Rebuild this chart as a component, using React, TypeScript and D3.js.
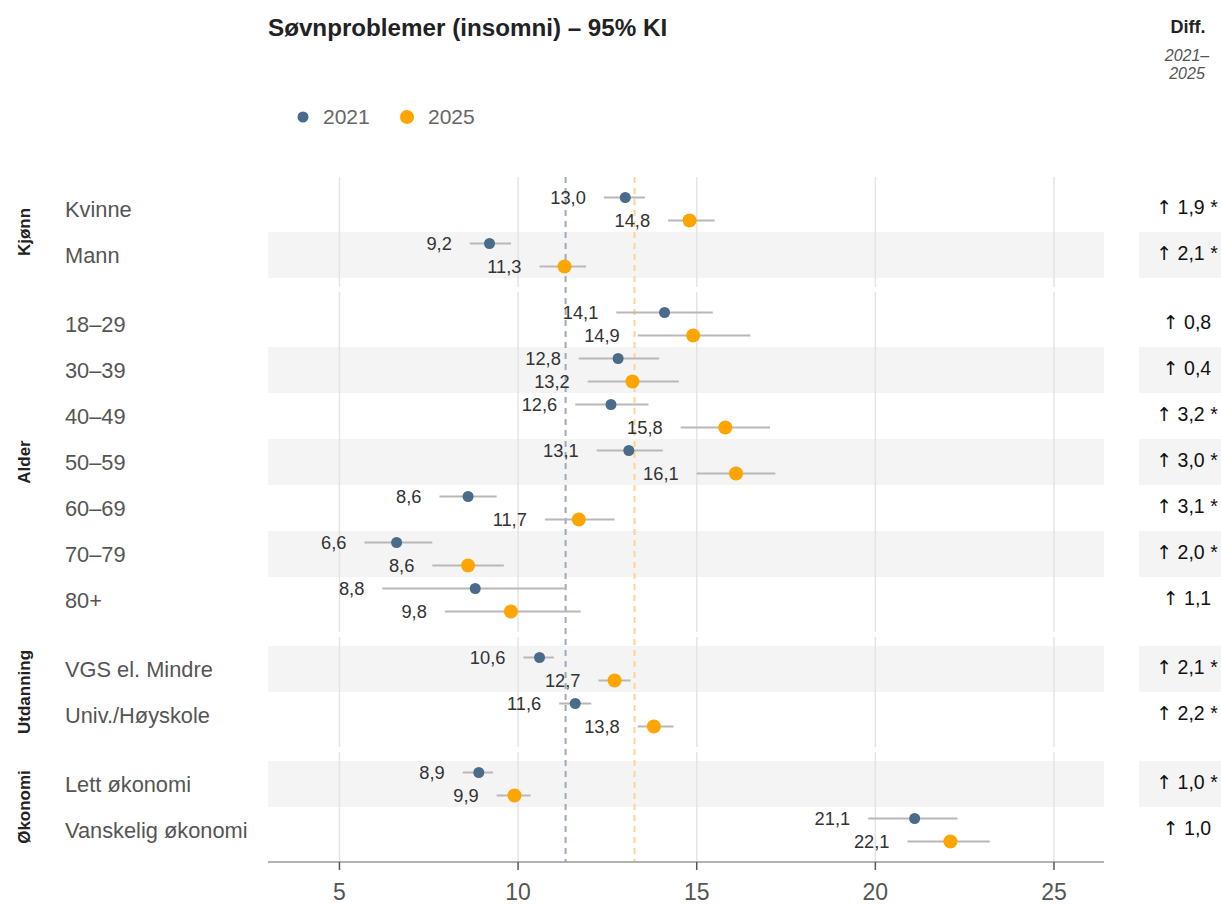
import React from "react";
import * as d3 from "d3";

const categories = ["Kvinne", "Mann", "18–29", "30–39", "40–49", "50–59", "60–69", "70–79", "80+", "VGS el. Mindre", "Univ./Høyskole", "Lett økonomi", "Vanskelig økonomi"];
const groupNames = ["Kjønn", "Alder", "Utdanning", "Økonomi"];
const groupSizes = [2, 7, 2, 2];

const est2021 = [13.0, 9.2, 14.1, 12.8, 12.6, 13.1, 8.6, 6.6, 8.8, 10.6, 11.6, 8.9, 21.1];
const lo2021 = [12.4, 8.65, 12.75, 11.7, 11.6, 12.2, 7.8, 5.7, 6.2, 10.15, 11.15, 8.45, 19.8];
const hi2021 = [13.55, 9.8, 15.45, 13.95, 13.65, 14.05, 9.4, 7.6, 11.35, 11.0, 12.05, 9.3, 22.3];

const est2025 = [14.8, 11.3, 14.9, 13.2, 15.8, 16.1, 11.7, 8.6, 9.8, 12.7, 13.8, 9.9, 22.1];
const lo2025 = [14.2, 10.6, 13.35, 11.95, 14.55, 15.0, 10.75, 7.6, 7.95, 12.25, 13.35, 9.4, 20.9];
const hi2025 = [15.5, 11.9, 16.5, 14.5, 17.05, 17.2, 12.7, 9.6, 11.75, 13.15, 14.35, 10.35, 23.2];

const diffArrows = ["↑", "↑", "↑", "↑", "↑", "↑", "↑", "↑", "↑", "↑", "↑", "↑", "↑"];
const diffValues = ["1,9 *", "2,1 *", "0,8", "0,4", "3,2 *", "3,0 *", "3,1 *", "2,0 *", "1,1", "2,1 *", "2,2 *", "1,0 *", "1,0"];

const refLines = [11.33, 13.26];
const xTicks = [5, 10, 15, 20, 25];
const years = ["2021", "2025"];

const C2021 = "#4a6b8a";
const C2025 = "#FFA500";
const FONT = "'Liberation Sans', Arial, sans-serif";

export default function App() {
  const W = 1221, H = 904;
  const plotL = 268, plotR = 1104;
  const x = d3.scaleLinear().domain([3, 26.4]).range([plotL, plotR]);

  const top0 = 177, pad = 9, rowH = 46, gap = 5;
  const facets: { name: string; y0: number; y1: number }[] = [];
  const rowTop: number[] = [];
  let cur = top0;
  groupSizes.forEach((n, gi) => {
    const y0 = cur;
    for (let i = 0; i < n; i++) rowTop.push(y0 + pad + i * rowH);
    const y1 = y0 + pad * 2 + n * rowH;
    facets.push({ name: groupNames[gi], y0, y1 });
    cur = y1 + gap;
  });
  const axisY = facets[facets.length - 1].y1;
  const fmt = (v: number) => v.toFixed(1).replace(".", ",");

  const series = [
    { est: est2021, lo: lo2021, hi: hi2021, color: C2021, r: 5.5, dy: 11.5 },
    { est: est2025, lo: lo2025, hi: hi2025, color: C2025, r: 7, dy: 34.5 },
  ];

  return (
    <svg width={W} height={H} style={{ position: "absolute", left: 0, top: 0, fontFamily: FONT }}>
      <rect width={W} height={H} fill="#fff" />
      <text x={plotL} y={36} fontSize={24.2} fontWeight="bold" fill="#222">Søvnproblemer (insomni) – 95% KI</text>
      <circle cx={303} cy={117} r={5.5} fill={C2021} />
      <text x={323} y={124} fontSize={21} fill="#666">{years[0]}</text>
      <circle cx={407} cy={117} r={7} fill={C2025} />
      <text x={428} y={124} fontSize={21} fill="#666">{years[1]}</text>
      <text x={1188} y={33} fontSize={18} fontWeight="bold" fill="#222" textAnchor="middle">Diff.</text>
      <text x={1187} y={61} fontSize={16} fontStyle="italic" fill="#555" textAnchor="middle">2021–</text>
      <text x={1187} y={79} fontSize={16} fontStyle="italic" fill="#555" textAnchor="middle">2025</text>

      {categories.map((c, i) =>
        i % 2 === 1 ? (
          <g key={"b" + i}>
            <rect x={plotL} y={rowTop[i]} width={plotR - plotL} height={rowH} fill="#f4f4f4" />
            <rect x={1139} y={rowTop[i]} width={W - 1139} height={rowH} fill="#f4f4f4" />
          </g>
        ) : null
      )}
      {facets.map((f, fi) =>
        xTicks.map((t) => (
          <line key={"g" + fi + t} x1={x(t)} x2={x(t)} y1={f.y0} y2={f.y1} stroke="#e4e4e4" strokeWidth={1.5} />
        ))
      )}
      <line x1={x(refLines[0])} x2={x(refLines[0])} y1={top0} y2={axisY} stroke="#9aabbd" strokeWidth={2} strokeDasharray="6,5" />
      <line x1={x(refLines[1])} x2={x(refLines[1])} y1={top0} y2={axisY} stroke="#ffd48c" strokeWidth={2} strokeDasharray="6,5" />

      {facets.map((f) => (
        <text key={"f" + f.name} transform={`translate(30,${(f.y0 + f.y1) / 2}) rotate(-90)`} fontSize={17} fontWeight="bold" fill="#222" textAnchor="middle">{f.name}</text>
      ))}
      {categories.map((c, i) => (
        <text key={"c" + i} x={65} y={rowTop[i] + rowH / 2 + 8} fontSize={21.8} fill="#555">{c}</text>
      ))}

      {series.map((s, si) =>
        categories.map((c, i) => {
          const cy = rowTop[i] + s.dy;
          return (
            <g key={"s" + si + i}>
              <line x1={x(s.lo[i])} x2={x(s.hi[i])} y1={cy} y2={cy} stroke="#b8b8b8" strokeWidth={2} />
              <circle cx={x(s.est[i])} cy={cy} r={s.r} fill={s.color} />
              <text x={x(s.lo[i]) - 18} y={cy + 6.5} fontSize={18.3} fill="#333" textAnchor="end">{fmt(s.est[i])}</text>
            </g>
          );
        })
      )}

      {diffValues.map((d, i) => (
        <text key={"d" + i} x={1187} y={rowTop[i] + rowH / 2 + 5} fontSize={19.5} fill="#111" textAnchor="middle">
          <tspan fontFamily="'DejaVu Sans', sans-serif" fontSize={19}>{diffArrows[i]}</tspan>
          <tspan> {d}</tspan>
        </text>
      ))}

      <line x1={plotL} x2={plotR} y1={axisY} y2={axisY} stroke="#9a9a9a" strokeWidth={1.5} />
      {xTicks.map((t) => (
        <g key={"t" + t}>
          <line x1={x(t)} x2={x(t)} y1={axisY} y2={axisY + 8} stroke="#555" strokeWidth={1.5} />
          <text x={x(t)} y={900} fontSize={23} fill="#555" textAnchor="middle">{t}</text>
        </g>
      ))}
    </svg>
  );
}
